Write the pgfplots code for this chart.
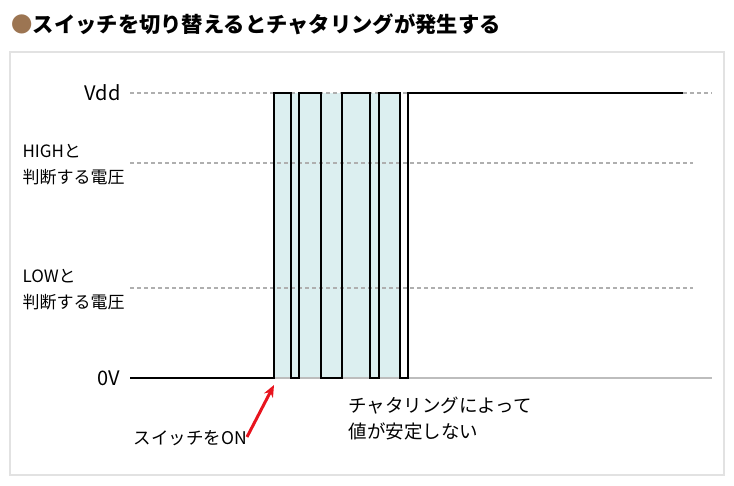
\documentclass[border=0pt]{standalone}
\usepackage{fontspec}
\setmainfont{Noto Sans CJK JP}
\usepackage{pgfplots}
\pgfplotsset{compat=1.18}
\usetikzlibrary{arrows.meta}
\definecolor{bulletbrown}{HTML}{9C7552}
\definecolor{framegray}{HTML}{E2E2E2}
\definecolor{guidegray}{HTML}{AFAFAF}
\definecolor{basegray}{HTML}{BDBDBD}
\definecolor{chatter}{HTML}{DCEFF0}
\definecolor{arrowred}{HTML}{E8141E}
\begin{document}
\begin{tikzpicture}
\useasboundingbox (0,0) rectangle (734pt,486pt);
\begin{axis}[
  width=734pt, height=486pt, scale only axis,
  xmin=0, xmax=734, ymin=0, ymax=486,
  hide axis, clip=false
]
% chattering band
\addplot[fill=chatter, draw=none] coordinates
  {(274,108) (274,393) (400,393) (400,108)} -- cycle;
% threshold guides
\addplot[guidegray, line width=1.3pt, dash pattern=on 4pt off 3pt] coordinates {(130,393) (712,393)};
\addplot[guidegray, line width=1.3pt, dash pattern=on 4pt off 3pt] coordinates {(130,323) (693,323)};
\addplot[guidegray, line width=1.3pt, dash pattern=on 4pt off 3pt] coordinates {(130,198) (693,198)};
\addplot[basegray, line width=2pt] coordinates {(130,108) (712,108)};
% switch signal
\addplot[black, line width=2.7pt, line join=miter] coordinates {
  (130,108) (274,108) (274,393) (291,393) (291,108) (299,108) (299,393)
  (321,393) (321,108) (342,108) (342,393) (370,393) (370,108) (379,108)
  (379,393) (400,393) (400,108) (408,108) (408,393) (683,393)};

\draw[framegray, line width=2pt] (axis cs:10,434) rectangle (axis cs:724,11);

\node[anchor=west, font=\fontsize{21.3}{25}\selectfont\bfseries] at (axis cs:8,462)
  {{\color{bulletbrown}●}スイッチを切り替えるとチャタリングが発生する};
\node[anchor=east, font=\fontsize{20}{24}\selectfont] at (axis cs:124,393) {Vdd};
\node[anchor=east, font=\fontsize{20}{24}\selectfont] at (axis cs:124,108) {0V};
\node[anchor=west, align=left, font=\fontsize{17}{26}\selectfont] at (axis cs:19,321)
  {HIGHと\\判断する電圧};
\node[anchor=west, align=left, font=\fontsize{17}{26}\selectfont] at (axis cs:19,196.5)
  {LOWと\\判断する電圧};
\node[anchor=west, align=left, font=\fontsize{18.5}{26}\selectfont] at (axis cs:345,67)
  {チャタリングによって\\値が安定しない};
\node[anchor=west, font=\fontsize{17.5}{21}\selectfont] at (axis cs:130,48) {スイッチをON};
\draw[arrowred, line width=3pt, -{Stealth[length=12pt,width=10pt]}] (axis cs:247,49) -- (axis cs:274,101);
\end{axis}
\end{tikzpicture}
\end{document}
